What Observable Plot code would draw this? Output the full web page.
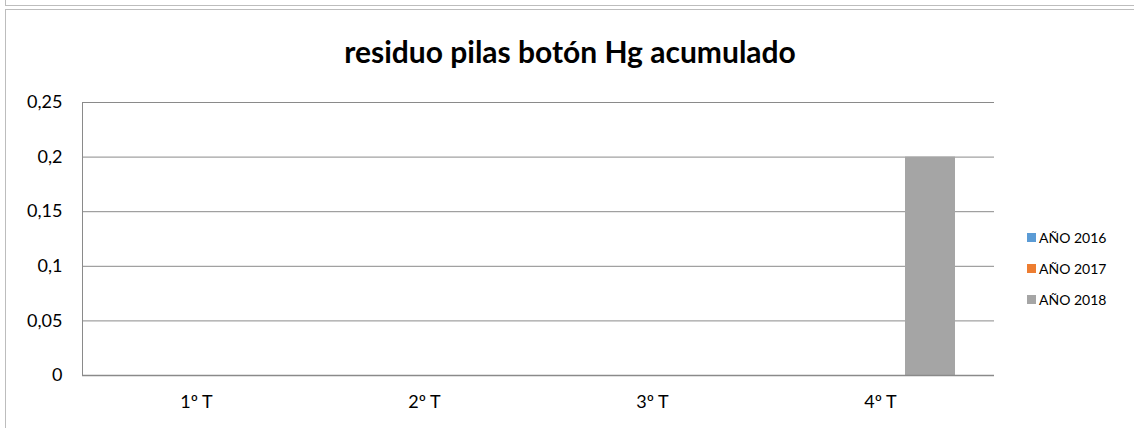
<!DOCTYPE html>
<html>
<head>
<meta charset="utf-8">
<script src="https://cdn.jsdelivr.net/npm/d3@7"></script>
<script src="https://cdn.jsdelivr.net/npm/@observablehq/plot@0.6"></script>
<style>
  html, body { margin: 0; padding: 0; background: #fff; }
  #wrap { position: relative; width: 1134px; height: 428px; overflow: hidden; font-family: Lato, "Open Sans", sans-serif; }
  .box { position: absolute; border: 1.5px solid #bdbdbd; box-sizing: border-box; }
  #title { position: absolute; left: 0; width: 1140px; top: 36px; text-align: center; font-weight: bold; font-size: 30px; line-height: 30px; color: #000; }
  #chart { position: absolute; left: 0; top: 90px; }
  #legend { position: absolute; left: 1027px; top: 222px; font-size: 14px; color: #000; }
  #legend .row { height: 31px; display: flex; align-items: center; white-space: nowrap; }
  #legend .sw { width: 9px; height: 9px; margin-right: 3px; display: inline-block; }
</style>
</head>
<body>
<div id="wrap">
  <div class="box" style="left:5px; top:-10px; width:1200px; height:16px;"></div>
  <div class="box" style="left:5px; top:9px; width:1200px; height:500px;"></div>
  <div id="title"></div>
  <div id="chart"></div>
  <div id="legend"></div>
</div>
<script>
const chartTitle = "residuo pilas botón Hg acumulado";
const quarters = ["1º T", "2º T", "3º T", "4º T"];
const series = ["AÑO 2016", "AÑO 2017", "AÑO 2018"];
const values2016 = [0, 0, 0, 0];
const values2017 = [0, 0, 0, 0];
const values2018 = [0, 0, 0, 0.2];
const colors = ["#5B9BD5", "#ED7D31", "#A5A5A5"];
const yTicks = [0, 0.05, 0.1, 0.15, 0.2, 0.25];
const yTickLabels = ["0", "0,05", "0,1", "0,15", "0,2", "0,25"];

const seriesValues = [values2016, values2017, values2018];
const data = [];
quarters.forEach((q, qi) => {
  series.forEach((s, si) => {
    data.push({quarter: q, series: s, value: seriesValues[si][qi]});
  });
});

document.getElementById("title").textContent = chartTitle;

const gridColor = "#8a8a8a";
const chart = Plot.plot({
  width: 1134,
  height: 338,
  marginLeft: 81,
  marginRight: 139,
  marginTop: 12,
  marginBottom: 53,
  style: {fontFamily: "Lato, 'Open Sans', sans-serif", fontSize: "18px", color: "#000", background: "transparent"},
  fx: {domain: quarters, padding: 0, label: null, axis: null},
  x: {domain: series, paddingInner: 0, paddingOuter: 0.74, axis: null},
  y: {domain: [0, 0.25], axis: null},
  color: {domain: series, range: colors},
  marks: [
    Plot.gridY(yTicks, {stroke: gridColor, strokeOpacity: 1, strokeWidth: 1}),
    Plot.barY(data, {fx: "quarter", x: "series", y: "value", fill: "series"}),
    Plot.ruleY([0], {stroke: gridColor, strokeWidth: 1.5}),
    Plot.frame({anchor: "left", facetAnchor: "left", stroke: gridColor, strokeWidth: 1}),
    Plot.axisY(yTicks, {facetAnchor: "left", anchor: "left", tickSize: 0, tickPadding: 20, label: null,
      tickFormat: (d) => yTickLabels[yTicks.indexOf(d)], fontSize: 18}),
    Plot.axisFx({anchor: "bottom", tickSize: 0, tickPadding: 20, label: null, fontSize: 18})
  ]
});
document.getElementById("chart").appendChild(chart);

const legend = document.getElementById("legend");
series.forEach((s, i) => {
  const row = document.createElement("div");
  row.className = "row";
  const sw = document.createElement("span");
  sw.className = "sw";
  sw.style.background = colors[i];
  const t = document.createElement("span");
  t.textContent = s;
  row.appendChild(sw);
  row.appendChild(t);
  legend.appendChild(row);
});
</script>
</body>
</html>
